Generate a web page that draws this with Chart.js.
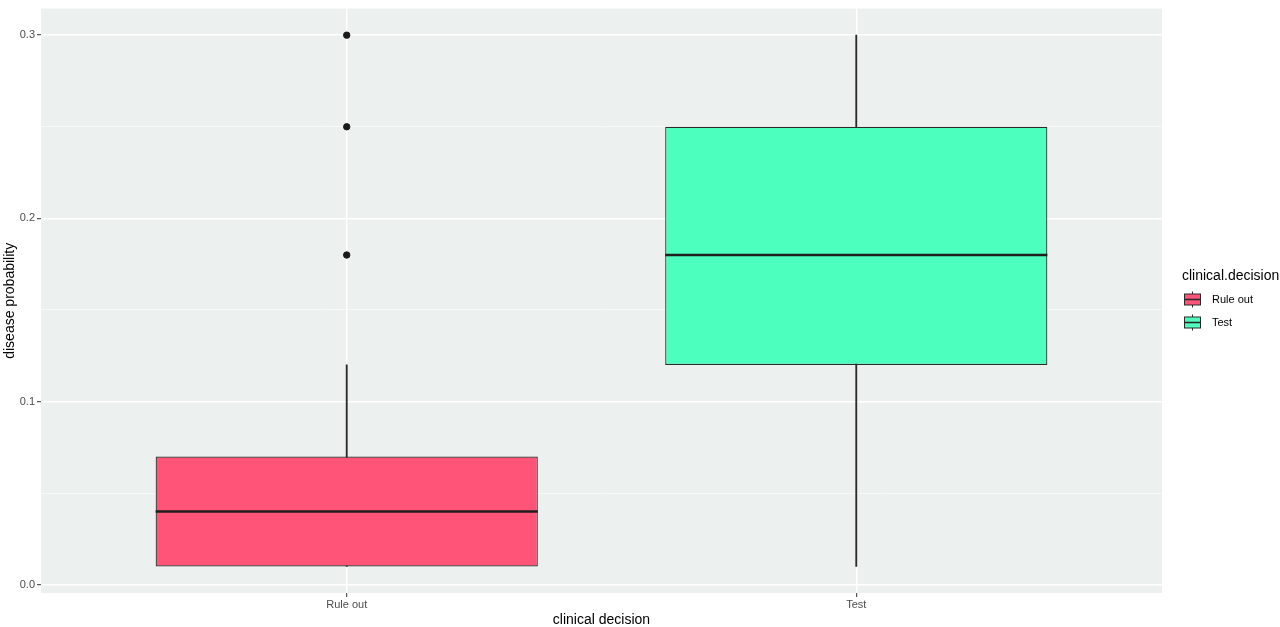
<!DOCTYPE html>
<html>
<head>
<meta charset="utf-8">
<script src="https://cdn.jsdelivr.net/npm/chart.js@4/dist/chart.umd.min.js"></script>
<style>
html,body{margin:0;padding:0;background:#fff;}
#wrap{width:1280px;height:627px;position:relative;}
</style>
</head>
<body>
<div id="wrap"><canvas id="c" width="1280" height="627"></canvas></div>
<script>
// ---- data ----
const categories = ["Rule out", "Test"];
const categoryPos = [1, 2];
const whiskerLow = [0.01, 0.01];
const q1 = [0.01, 0.12];
const median = [0.04, 0.18];
const q3 = [0.07, 0.25];
const whiskerHigh = [0.12, 0.30];
const outlierCategory = [1, 1, 1];
const outlierValue = [0.18, 0.25, 0.30];
const yTickValues = [0, 0.05, 0.1, 0.15, 0.2, 0.25, 0.3];
const yTickLabels = ["0.0", "", "0.1", "", "0.2", "", "0.3"];
const fillColors = ["#FF5478", "#4DFFBE"];
const xTitle = "clinical decision";
const yTitle = "disease probability";
const legendTitle = "clinical.decision";

const FONT = "'Liberation Sans', Arial, Helvetica, sans-serif";
const PANEL_BG = "#ECF0EF";
const EDGE = "#2a2a2a";

const boxData = categoryPos.map((x, i) => ({x: x, y: [q1[i], q3[i]]}));
const whiskerData = categoryPos.map((x, i) => ({x: x, y: [whiskerLow[i], whiskerHigh[i]]}));
const outlierData = outlierCategory.map((x, i) => ({x: x, y: outlierValue[i]}));

const panelPlugin = {
  id: 'panel',
  beforeDraw(chart) {
    const {ctx, chartArea: a} = chart;
    ctx.save();
    ctx.fillStyle = PANEL_BG;
    ctx.fillRect(a.left, a.top, a.right - a.left, a.bottom - a.top);
    ctx.restore();
  }
};

const medianPlugin = {
  id: 'medians',
  afterDatasetsDraw(chart) {
    const {ctx} = chart;
    const meta = chart.getDatasetMeta(1);
    const ys = chart.scales.y;
    ctx.save();
    ctx.strokeStyle = "#1e1e1e";
    ctx.lineWidth = 2.4;
    meta.data.forEach((bar, i) => {
      const y = ys.getPixelForValue(median[i]);
      ctx.beginPath();
      ctx.moveTo(bar.x - bar.width / 2, y);
      ctx.lineTo(bar.x + bar.width / 2, y);
      ctx.stroke();
    });
    ctx.restore();
  }
};

const legendPlugin = {
  id: 'ggLegend',
  afterDraw(chart) {
    const {ctx} = chart;
    ctx.save();
    ctx.fillStyle = "#000";
    ctx.font = "14px " + FONT;
    ctx.textBaseline = "middle";
    ctx.textAlign = "left";
    ctx.fillText(legendTitle, 1182, 276);
    const rows = [299.5, 322.5];
    categories.forEach((cat, i) => {
      const cy = rows[i];
      const kx = 1184, kw = 17;
      ctx.strokeStyle = EDGE;
      ctx.lineWidth = 1;
      ctx.beginPath();
      ctx.moveTo(kx + kw / 2, cy - 8);
      ctx.lineTo(kx + kw / 2, cy + 8);
      ctx.stroke();
      ctx.fillStyle = fillColors[i];
      ctx.fillRect(kx, cy - 5.5, kw, 11);
      ctx.strokeRect(kx + 0.5, cy - 5.5, kw - 1, 11);
      ctx.lineWidth = 1.6;
      ctx.beginPath();
      ctx.moveTo(kx, cy);
      ctx.lineTo(kx + kw, cy);
      ctx.stroke();
      ctx.fillStyle = "#000";
      ctx.font = "11px " + FONT;
      ctx.fillText(cat, 1212, cy);
    });
    ctx.restore();
  }
};

new Chart(document.getElementById('c'), {
  type: 'bar',
  data: {
    datasets: [
      {
        label: 'whiskers',
        data: whiskerData,
        backgroundColor: EDGE,
        borderWidth: 0,
        barThickness: 1.2,
        grouped: false,
        order: 3
      },
      {
        label: 'boxes',
        data: boxData,
        backgroundColor: fillColors,
        borderColor: EDGE,
        borderWidth: 1.2,
        borderSkipped: false,
        barPercentage: 0.75,
        categoryPercentage: 1,
        grouped: false,
        order: 2
      },
      {
        type: 'scatter',
        label: 'outliers',
        data: outlierData,
        backgroundColor: "#1a1a1a",
        borderColor: "#1a1a1a",
        pointRadius: 3.2,
        pointHoverRadius: 3.2,
        order: 1
      }
    ]
  },
  options: {
    responsive: false,
    animation: false,
    events: [],
    layout: {padding: {left: 0, right: 118, top: 4, bottom: 0}},
    plugins: {
      legend: {display: false},
      tooltip: {enabled: false}
    },
    scales: {
      x: {
        type: 'linear',
        min: 0.4,
        max: 2.6,
        offset: false,
        afterBuildTicks(scale) {
          scale.ticks = categoryPos.map(v => ({value: v}));
        },
        afterFit(scale) { scale.height = 34; },
        ticks: {
          autoSkip: false,
          maxRotation: 0,
          padding: 1,
          color: "#4D4D4D",
          font: {family: FONT, size: 11},
          callback: (v) => categories[categoryPos.indexOf(v)]
        },
        grid: {
          offset: false,
          color: "#ffffff",
          lineWidth: 1.4,
          drawTicks: true,
          tickLength: 4,
          tickColor: "#333333",
          tickWidth: 1
        },
        border: {display: false},
        title: {
          display: true,
          text: xTitle,
          color: "#000",
          font: {family: FONT, size: 14},
          padding: {top: 5, bottom: -2}
        }
      },
      y: {
        type: 'linear',
        min: -0.0045,
        max: 0.3145,
        afterBuildTicks(scale) {
          scale.ticks = yTickValues.map(v => ({value: v}));
        },
        afterFit(scale) { scale.width = 41; },
        ticks: {
          autoSkip: false,
          padding: 2,
          color: "#4D4D4D",
          font: {family: FONT, size: 11},
          callback: (v) => yTickLabels[yTickValues.indexOf(v)]
        },
        grid: {
          color: (c) => (c.index % 2 === 0 ? "#ffffff" : "rgba(255,255,255,0.85)"),
          lineWidth: (c) => (c.index % 2 === 0 ? 1.4 : 0.7),
          drawTicks: true,
          tickLength: 4,
          tickColor: (c) => (c.index % 2 === 0 ? "#333333" : "rgba(0,0,0,0)"),
          tickWidth: 1
        },
        border: {display: false},
        title: {
          display: true,
          text: yTitle,
          color: "#000",
          font: {family: FONT, size: 14},
          padding: {top: 2, bottom: 0}
        }
      }
    }
  },
  plugins: [panelPlugin, medianPlugin, legendPlugin]
});
</script>
</body>
</html>
